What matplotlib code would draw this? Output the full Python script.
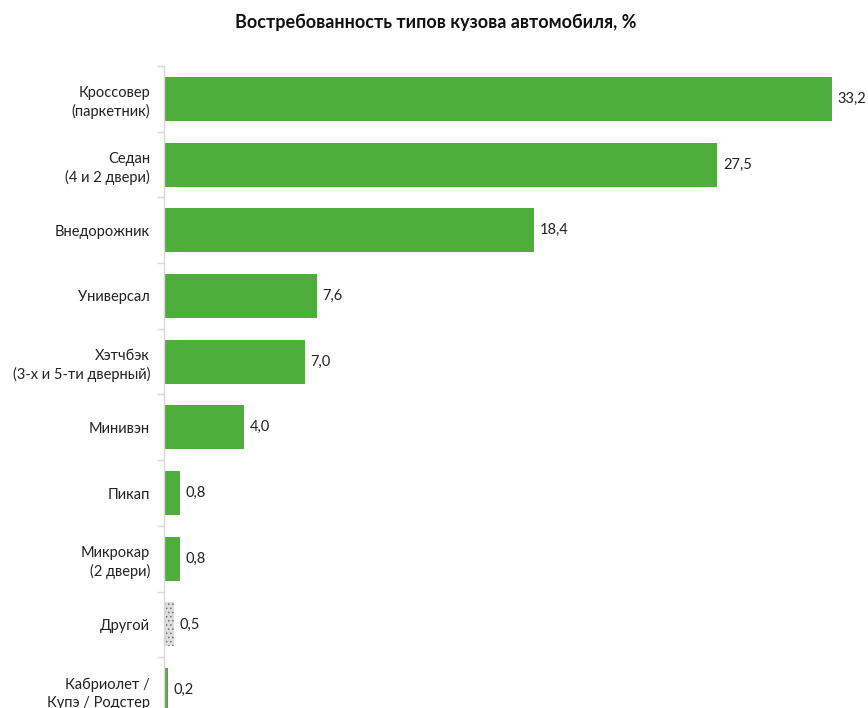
import matplotlib
matplotlib.use("Agg")
import matplotlib.pyplot as plt
import numpy as np

categories = [
    "Кроссовер\n(паркетник)",
    "Седан\n(4 и 2 двери)",
    "Внедорожник",
    "Универсал",
    "Хэтчбэк\n(3-х и 5-ти дверный)",
    "Минивэн",
    "Пикап",
    "Микрокар\n(2 двери)",
    "Другой",
    "Кабриолет /\nКупэ / Родстер",
]
values = [33.2, 27.5, 18.4, 7.6, 7.0, 4.0, 0.8, 0.8, 0.5, 0.2]
value_labels = ["33,2", "27,5", "18,4", "7,6", "7,0", "4,0", "0,8", "0,8", "0,5", "0,2"]
title = "Востребованность типов кузова автомобиля, %"

plt.rcParams["font.family"] = ["Lato", "DejaVu Sans"]
plt.rcParams["hatch.linewidth"] = 0.5

W, H = 868, 708
fig = plt.figure(figsize=(W / 100, H / 100), dpi=100)
ax = fig.add_axes([164 / W, (H - 723) / H, 668 / W, 657 / H])

green = "#4DAE3C"
n = len(categories)
y = np.arange(n)
for i, (v, lab) in enumerate(zip(values, value_labels)):
    if categories[i] == "Другой":
        ax.barh(i, v, height=0.67, color="#DDDDDD", edgecolor="#666666",
                hatch="....", linewidth=0)
    else:
        ax.barh(i, v, height=0.67, color=green, linewidth=0)
    ax.text(v + 0.28, i, lab, va="center", ha="left", fontsize=10.5,
            color="#222222", clip_on=False)

ax.set_xlim(0, 33.2)
ax.set_ylim(n - 0.5, -0.5)
ax.set_yticks(y)
ax.set_yticklabels(categories, fontsize=10.5, color="#222222", linespacing=1.35)
ax.set_yticks(np.arange(-0.5, n, 1), minor=True)
ax.tick_params(axis="y", which="major", length=0, pad=10)
ax.tick_params(axis="y", which="minor", length=5, color="#D9D9D9", width=1)
ax.set_xticks([])
for s in ["top", "right", "bottom"]:
    ax.spines[s].set_visible(False)
ax.spines["left"].set_color("#D9D9D9")
ax.spines["left"].set_linewidth(1)

fig.text(436 / W, 1 - 22 / H, title, ha="center", va="center",
         fontsize=13, fontweight="bold", color="#111111")

fig.savefig("out.png", dpi=100, facecolor="white")
